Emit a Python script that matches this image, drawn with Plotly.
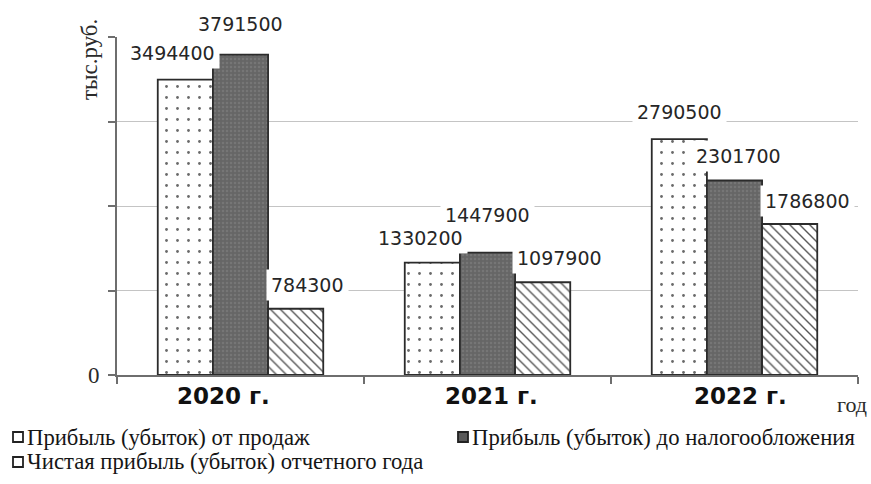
import plotly.graph_objects as go

# --- data -----------------------------------------------------------------
years = ["2020 г.", "2021 г.", "2022 г."]
sales_profit = [3494400, 1330200, 2790500]      # Прибыль (убыток) от продаж
pretax_profit = [3791500, 1447900, 2301700]     # Прибыль (убыток) до налогообложения
net_profit = [784300, 1097900, 1786800]         # Чистая прибыль (убыток) отчетного года
series_names = [
    "Прибыль (убыток) от продаж",
    "Прибыль (убыток) до налогообложения",
    "Чистая прибыль (убыток) отчетного года",
]
y_ticks = [0, 1000000, 2000000, 3000000, 4000000]
y_tick_text = ["0", "", "", "", ""]
y_title = "тыс.руб."
x_title = "год"

# --- layout geometry --------------------------------------------------------
W, H = 871, 484
M = dict(l=117, r=13, t=37, b=109)
plot_w = W - M["l"] - M["r"]
plot_h = H - M["t"] - M["b"]


def paper_x(px):
    return (px - M["l"]) / plot_w


def paper_y(py):
    return (H - M["b"] - py) / plot_h


BARGAP = 0.33
bar_w = (1 - BARGAP) / 3          # width of one bar in category units
bar_offsets = [-bar_w, 0.0, bar_w]

SERIF = "Liberation Serif"
SANS = "DejaVu Sans"
EDGE = "#2b2b2b"

styles = [
    dict(color="white",
         pattern=dict(shape=".", size=11, solidity=0.05, fgcolor="#6a6a6a",
                      bgcolor="white", fillmode="replace")),
    dict(color="#6a6a6a",
         pattern=dict(shape=".", size=4, solidity=0.3, fgcolor="#767676",
                      bgcolor="#666666", fillmode="replace")),
    dict(color="white",
         pattern=dict(shape="\\", size=7, solidity=0.2, fgcolor="#555555",
                      bgcolor="white", fillmode="replace")),
]

# per-label nudges (px) for the value labels, [series][year]
label_dx = [[-13, -12, 0], [0, 0, 4], [12, 17, 18]]
label_dy = [[27, 25, 27], [31, 38, 25], [24, 24, 23]]

series = [sales_profit, pretax_profit, net_profit]

fig = go.Figure()
for name, vals, st in zip(series_names, series, styles):
    fig.add_trace(go.Bar(
        x=years, y=vals, name=name,
        marker=dict(color=st["color"], pattern=st["pattern"],
                    line=dict(color=EDGE, width=1.8)),
        showlegend=False,
    ))

annotations = []
# value labels with white boxes (they break the gridlines)
for s, vals in enumerate(series):
    for i, v in enumerate(vals):
        annotations.append(dict(
            x=i + bar_offsets[s], y=v, xref="x", yref="y",
            text=str(v), showarrow=False,
            xanchor="center", yanchor="middle",
            xshift=label_dx[s][i], yshift=label_dy[s][i],
            bgcolor="white", borderpad=4,
            font=dict(family=SANS, size=19, color="#262626"),
        ))

# category labels under the axis
cat_dx = [-17, 4, 6]
for i, yr in enumerate(years):
    annotations.append(dict(
        x=i, y=0, xref="x", yref="paper", text=f"<b>{yr}</b>",
        showarrow=False, xanchor="center", yanchor="top",
        xshift=cat_dx[i], yshift=-6,
        font=dict(family=SANS, size=23, color="#111111"),
    ))

# axis titles
annotations.append(dict(
    x=paper_x(89), y=paper_y(60), xref="paper", yref="paper",
    text=y_title, textangle=-90, showarrow=False,
    xanchor="center", yanchor="middle",
    font=dict(family=SERIF, size=23, color="#2a2a2a"),
))
annotations.append(dict(
    x=paper_x(852), y=paper_y(404), xref="paper", yref="paper",
    text=x_title, showarrow=False, xanchor="center", yanchor="middle",
    font=dict(family=SERIF, size=22, color="#2a2a2a"),
))

# legend drawn below the chart
legend_pos = [(13, 437), (458, 437), (13, 462)]
legend_fill = ["white", "#5a5a5a", "white"]
shapes = []
for (lx, ly), name, fill in zip(legend_pos, series_names, legend_fill):
    shapes.append(dict(
        type="rect", xref="paper", yref="paper",
        x0=paper_x(lx), x1=paper_x(lx + 10),
        y0=paper_y(ly + 5), y1=paper_y(ly - 5),
        fillcolor=fill, line=dict(color="#222222", width=1.8),
    ))
    annotations.append(dict(
        x=paper_x(lx + 12), y=paper_y(ly), xref="paper", yref="paper",
        text=name, showarrow=False, xanchor="left", yanchor="middle",
        font=dict(family=SERIF, size=22.7, color="#151515"),
    ))

fig.update_layout(
    width=W, height=H,
    margin=M,
    paper_bgcolor="white", plot_bgcolor="white",
    barmode="group", bargap=BARGAP, bargroupgap=0,
    annotations=annotations, shapes=shapes,
    showlegend=False,
    xaxis=dict(
        type="category", range=[-0.5, 2.5],
        showline=True, linecolor="#6e6e6e", linewidth=2,
        ticks="outside", tickson="boundaries", ticklen=7,
        tickcolor="#6e6e6e", tickwidth=2,
        showticklabels=False, showgrid=False, zeroline=False,
    ),
    yaxis=dict(
        range=[0, 4000000], tickvals=y_ticks, ticktext=y_tick_text,
        showline=True, linecolor="#6e6e6e", linewidth=2,
        ticks="outside", ticklen=7, tickcolor="#6e6e6e", tickwidth=2,
        showgrid=True, gridcolor="#c4c4c4", gridwidth=1,
        zeroline=False, ticklabelstandoff=4,
        tickfont=dict(family=SERIF, size=23, color="#2a2a2a"),
    ),
)

fig.write_html("out.html")
